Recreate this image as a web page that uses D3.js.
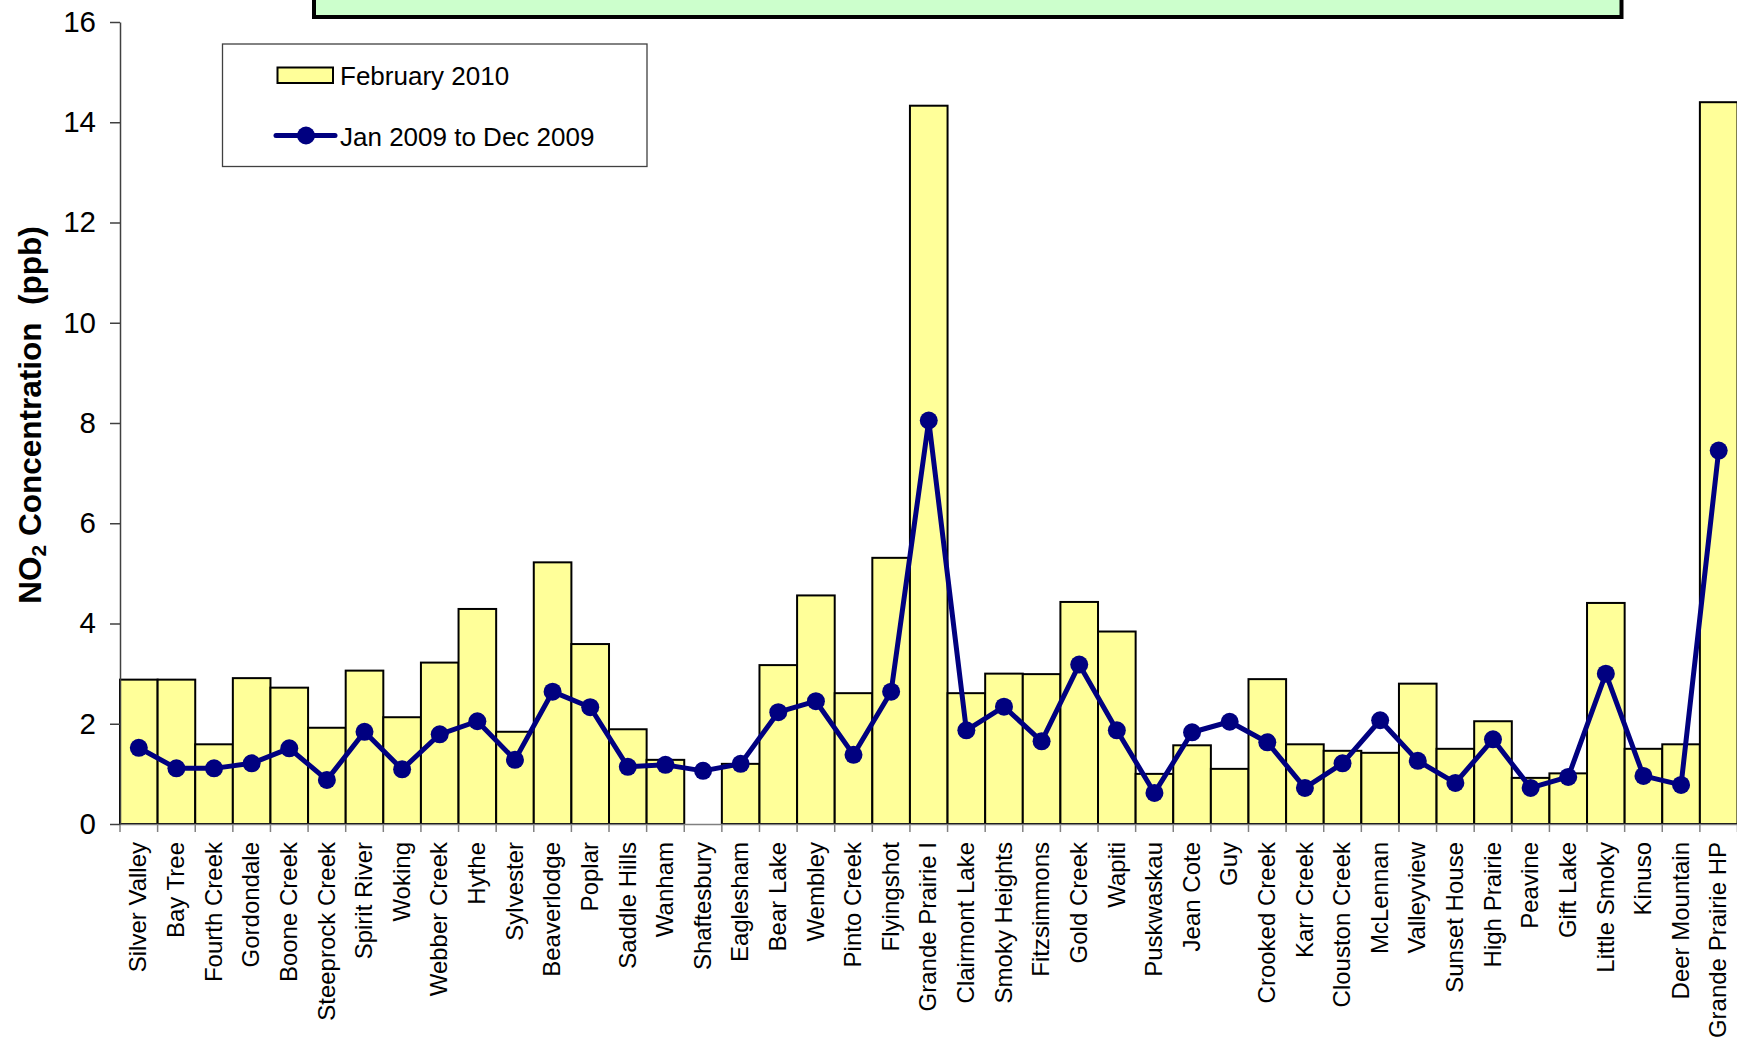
<!DOCTYPE html>
<html>
<head>
<meta charset="utf-8">
<script src="https://cdn.jsdelivr.net/npm/d3@7"></script>
<style>
  html, body { margin: 0; padding: 0; background: #fff; }
  svg { display: block; font-family: "Liberation Sans", Arial, sans-serif; }
</style>
</head>
<body>
<svg id="chart" width="1737" height="1038"></svg>
<script>
const stations = ["Silver Valley","Bay Tree","Fourth Creek","Gordondale","Boone Creek","Steeprock Creek","Spirit River","Woking","Webber Creek","Hythe","Sylvester","Beaverlodge","Poplar","Saddle Hills","Wanham","Shaftesbury","Eaglesham","Bear Lake","Wembley","Pinto Creek","Flyingshot","Grande Prairie I","Clairmont Lake","Smoky Heights","Fitzsimmons","Gold Creek","Wapiti","Puskwaskau","Jean Cote","Guy","Crooked Creek","Karr Creek","Clouston Creek","McLennan","Valleyview","Sunset House","High Prairie","Peavine","Gift Lake","Little Smoky","Kinuso","Deer Mountain","Grande Prairie HP"];

const feb2010 = [2.88, 2.88, 1.59, 2.91, 2.72, 1.92, 3.06, 2.13, 3.22, 4.29, 1.84, 5.22, 3.59, 1.89, 1.28, null, 1.20, 3.17, 4.56, 2.61, 5.31, 14.33, 2.61, 3.00, 2.99, 4.43, 3.84, 1.00, 1.57, 1.10, 2.89, 1.59, 1.46, 1.42, 2.80, 1.50, 2.05, 0.92, 1.01, 4.41, 1.50, 1.59, 14.40];

const annual2009 = [1.52, 1.11, 1.11, 1.21, 1.51, 0.88, 1.84, 1.09, 1.79, 2.05, 1.28, 2.64, 2.33, 1.14, 1.18, 1.06, 1.20, 2.23, 2.45, 1.38, 2.64, 8.05, 1.87, 2.34, 1.65, 3.18, 1.87, 0.62, 1.83, 2.04, 1.63, 0.72, 1.21, 2.07, 1.26, 0.82, 1.69, 0.72, 0.94, 3.00, 0.96, 0.78, 7.45];

const yTicks = [0, 2, 4, 6, 8, 10, 12, 14, 16];
const seriesNames = ["February 2010", "Jan 2009 to Dec 2009"];

(function () {
const svg = d3.select("#chart");
const mLeft = 120, mRight = 1737.5, mTop = 22, mBottom = 824;

const x = d3.scaleBand().domain(stations).range([mLeft, mRight]).padding(0);
const y = d3.scaleLinear().domain([0, 16]).range([mBottom, mTop]);

// title box (cut off at top)
svg.append("rect")
  .attr("x", 314).attr("y", -40)
  .attr("width", 1307.5).attr("height", 57)
  .attr("fill", "#CCFFCC").attr("stroke", "#000").attr("stroke-width", 4);

// bars
svg.append("g").selectAll("rect")
  .data(stations.map((s, i) => ({s, v: feb2010[i]})).filter(d => d.v != null))
  .join("rect")
  .attr("x", d => x(d.s))
  .attr("y", d => y(d.v))
  .attr("width", x.bandwidth())
  .attr("height", d => y(0) - y(d.v))
  .attr("fill", "#FFFF99")
  .attr("stroke", "#000")
  .attr("stroke-width", 2);

// x axis
const xAxis = svg.append("g")
  .attr("transform", `translate(0,${mBottom})`)
  .call(d3.axisBottom(x).tickSize(0).tickSizeOuter(0).tickFormat(d => d));
xAxis.select(".domain").attr("stroke", "#808080").attr("stroke-width", 1.5);
xAxis.selectAll(".tick text")
  .attr("transform", "rotate(-90)")
  .attr("x", -18).attr("y", 0).attr("dy", "0.32em")
  .attr("text-anchor", "end")
  .attr("font-size", 24)
  .attr("fill", "#000");
// boundary ticks
svg.append("g").selectAll("line")
  .data(d3.range(stations.length + 1))
  .join("line")
  .attr("x1", i => mLeft + i * x.step()).attr("x2", i => mLeft + i * x.step())
  .attr("y1", mBottom).attr("y2", mBottom + 8)
  .attr("stroke", "#808080").attr("stroke-width", 1.5);

// y axis
const yAxis = svg.append("g")
  .attr("transform", `translate(${mLeft},0)`)
  .call(d3.axisLeft(y).tickValues(yTicks).tickSize(10).tickPadding(14).tickSizeOuter(0));
yAxis.select(".domain").attr("stroke", "#404040").attr("stroke-width", 1.5);
yAxis.selectAll(".tick line").attr("stroke", "#404040").attr("stroke-width", 1.5);
yAxis.selectAll(".tick text").attr("font-size", 29.5).attr("fill", "#000");

// y label
const yl = svg.append("text")
  .attr("transform", "translate(41,415) rotate(-90)")
  .attr("text-anchor", "middle")
  .attr("font-weight", "bold")
  .attr("font-size", 31.5)
  .style("white-space", "pre")
  .attr("fill", "#000");
yl.append("tspan").text("NO");
yl.append("tspan").attr("font-size", 21).attr("dy", 5).text("2");
yl.append("tspan").attr("dy", -5).text(" Concentration  (ppb)");

// line
const line = d3.line()
  .x((d, i) => x(stations[i]) + x.bandwidth() / 2)
  .y(d => y(d));
svg.append("path")
  .datum(annual2009)
  .attr("d", line)
  .attr("fill", "none")
  .attr("stroke", "#000080")
  .attr("stroke-width", 5)
  .attr("stroke-linejoin", "round");
svg.append("g").selectAll("circle")
  .data(annual2009)
  .join("circle")
  .attr("cx", (d, i) => x(stations[i]) + x.bandwidth() / 2)
  .attr("cy", d => y(d))
  .attr("r", 9)
  .attr("fill", "#000080");

// legend
const lg = svg.append("g");
lg.append("rect").attr("x", 222.5).attr("y", 44).attr("width", 424.5).attr("height", 122.5)
  .attr("fill", "#fff").attr("stroke", "#404040").attr("stroke-width", 1.3);
lg.append("rect").attr("x", 277.5).attr("y", 67.5).attr("width", 55.5).attr("height", 15.5)
  .attr("fill", "#FFFF99").attr("stroke", "#000").attr("stroke-width", 2);
lg.append("text").attr("x", 340).attr("y", 84.5).attr("font-size", 26).attr("fill", "#000").text(seriesNames[0]);
lg.append("line").attr("x1", 276).attr("x2", 335).attr("y1", 135.5).attr("y2", 135.5)
  .attr("stroke", "#000080").attr("stroke-width", 5).attr("stroke-linecap", "round");
lg.append("circle").attr("cx", 306).attr("cy", 135.5).attr("r", 9).attr("fill", "#000080");
lg.append("text").attr("x", 340).attr("y", 146).attr("font-size", 26).attr("fill", "#000").text(seriesNames[1]);
})();
</script>
</body>
</html>
